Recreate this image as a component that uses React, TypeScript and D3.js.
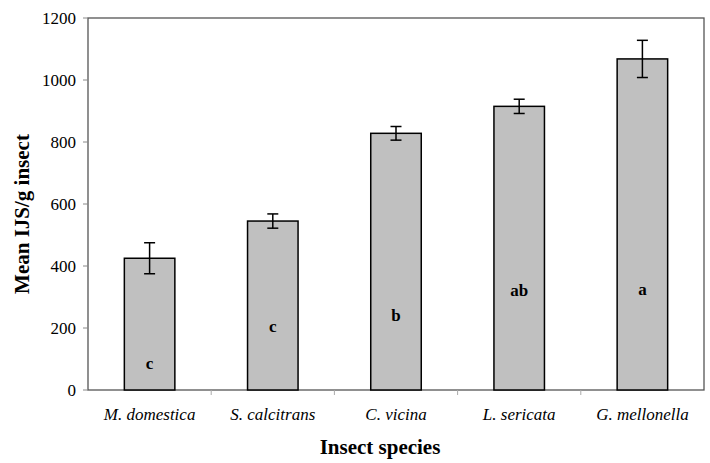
import React, { useEffect, useRef } from "react";
import * as d3 from "d3";

// Values
const species = ["M. domestica", "S. calcitrans", "C. vicina", "L. sericata", "G. mellonella"];
const means = [425, 545, 828, 915, 1068];
const errors = [50, 23, 22, 23, 60];
const letters = ["c", "c", "b", "ab", "a"];
const letterY = [87, 206, 242, 322, 326];
const yTicks = [0, 200, 400, 600, 800, 1000, 1200];

const App = () => {
  const svgRef = useRef<SVGSVGElement>(null);

  useEffect(() => {
    const width = 710;
    const height = 463;
    const margin = { top: 18, right: 6, bottom: 73, left: 88 };
    const font = "'Times New Roman', Times, 'Liberation Serif', serif";

    const svg = d3.select(svgRef.current);
    svg.selectAll("*").remove();
    svg.attr("width", width).attr("height", height)
      .style("font-family", font);

    const x = d3.scaleBand()
      .domain(species)
      .range([margin.left, width - margin.right])
      .paddingInner(0)
      .paddingOuter(0);

    const y = d3.scaleLinear()
      .domain([0, 1200])
      .range([height - margin.bottom, margin.top]);

    const barW = x.bandwidth() * 0.41;

    // plot frame
    svg.append("rect")
      .attr("x", margin.left)
      .attr("y", margin.top)
      .attr("width", width - margin.right - margin.left)
      .attr("height", height - margin.bottom - margin.top)
      .attr("fill", "none")
      .attr("stroke", "#555")
      .attr("stroke-width", 1.3);

    // y ticks
    const yg = svg.append("g");
    yTicks.forEach(t => {
      yg.append("line")
        .attr("x1", margin.left - 5).attr("x2", margin.left)
        .attr("y1", y(t)).attr("y2", y(t))
        .attr("stroke", "#888");
      yg.append("text")
        .attr("x", margin.left - 12)
        .attr("y", y(t))
        .attr("dy", "0.35em")
        .attr("text-anchor", "end")
        .style("font-size", "17px")
        .text(t);
    });

    // x ticks at band edges
    species.forEach((s, i) => {
      if (i === 0) return;
      const xx = x(s)!;
      svg.append("line")
        .attr("x1", xx).attr("x2", xx)
        .attr("y1", y(0)).attr("y2", y(0) + 5)
        .attr("stroke", "#aaa");
    });

    // bars
    svg.append("g")
      .selectAll("rect")
      .data(means)
      .enter()
      .append("rect")
      .attr("x", (d, i) => x(species[i])! + (x.bandwidth() - barW) / 2)
      .attr("y", d => y(d))
      .attr("width", barW)
      .attr("height", d => y(0) - y(d))
      .attr("fill", "#c0c0c0")
      .attr("stroke", "#000")
      .attr("stroke-width", 1.5);

    // error bars
    const eg = svg.append("g").attr("stroke", "#000").attr("stroke-width", 1.5);
    means.forEach((m, i) => {
      const cx = x(species[i])! + x.bandwidth() / 2;
      const e = errors[i];
      eg.append("line").attr("x1", cx).attr("x2", cx).attr("y1", y(m + e)).attr("y2", y(m - e));
      eg.append("line").attr("x1", cx - 5.5).attr("x2", cx + 5.5).attr("y1", y(m + e)).attr("y2", y(m + e));
      eg.append("line").attr("x1", cx - 5.5).attr("x2", cx + 5.5).attr("y1", y(m - e)).attr("y2", y(m - e));
    });

    // significance letters
    svg.append("g")
      .selectAll("text")
      .data(letters)
      .enter()
      .append("text")
      .attr("x", (d, i) => x(species[i])! + x.bandwidth() / 2)
      .attr("y", (d, i) => y(letterY[i]))
      .attr("dy", "0.35em")
      .attr("text-anchor", "middle")
      .style("font-weight", "bold")
      .style("font-size", "17px")
      .text(d => d);

    // x category labels
    svg.append("g")
      .selectAll("text")
      .data(species)
      .enter()
      .append("text")
      .attr("x", d => x(d)! + x.bandwidth() / 2)
      .attr("y", y(0) + 24)
      .attr("dy", "0.35em")
      .attr("text-anchor", "middle")
      .style("font-style", "italic")
      .style("font-size", "17px")
      .text(d => d);

    // axis titles
    svg.append("text")
      .attr("x", 380)
      .attr("y", 447)
      .attr("dy", "0.35em")
      .attr("text-anchor", "middle")
      .style("font-weight", "bold")
      .style("font-size", "21px")
      .text("Insect species");

    svg.append("text")
      .attr("transform", `translate(22,214) rotate(-90)`)
      .attr("dy", "0.35em")
      .attr("text-anchor", "middle")
      .style("font-weight", "bold")
      .style("font-size", "21px")
      .text("Mean IJS/g insect");
  }, []);

  return (
    <div style={{ position: "absolute", left: 0, top: 0 }}>
      <svg ref={svgRef}></svg>
    </div>
  );
};

export default App;
